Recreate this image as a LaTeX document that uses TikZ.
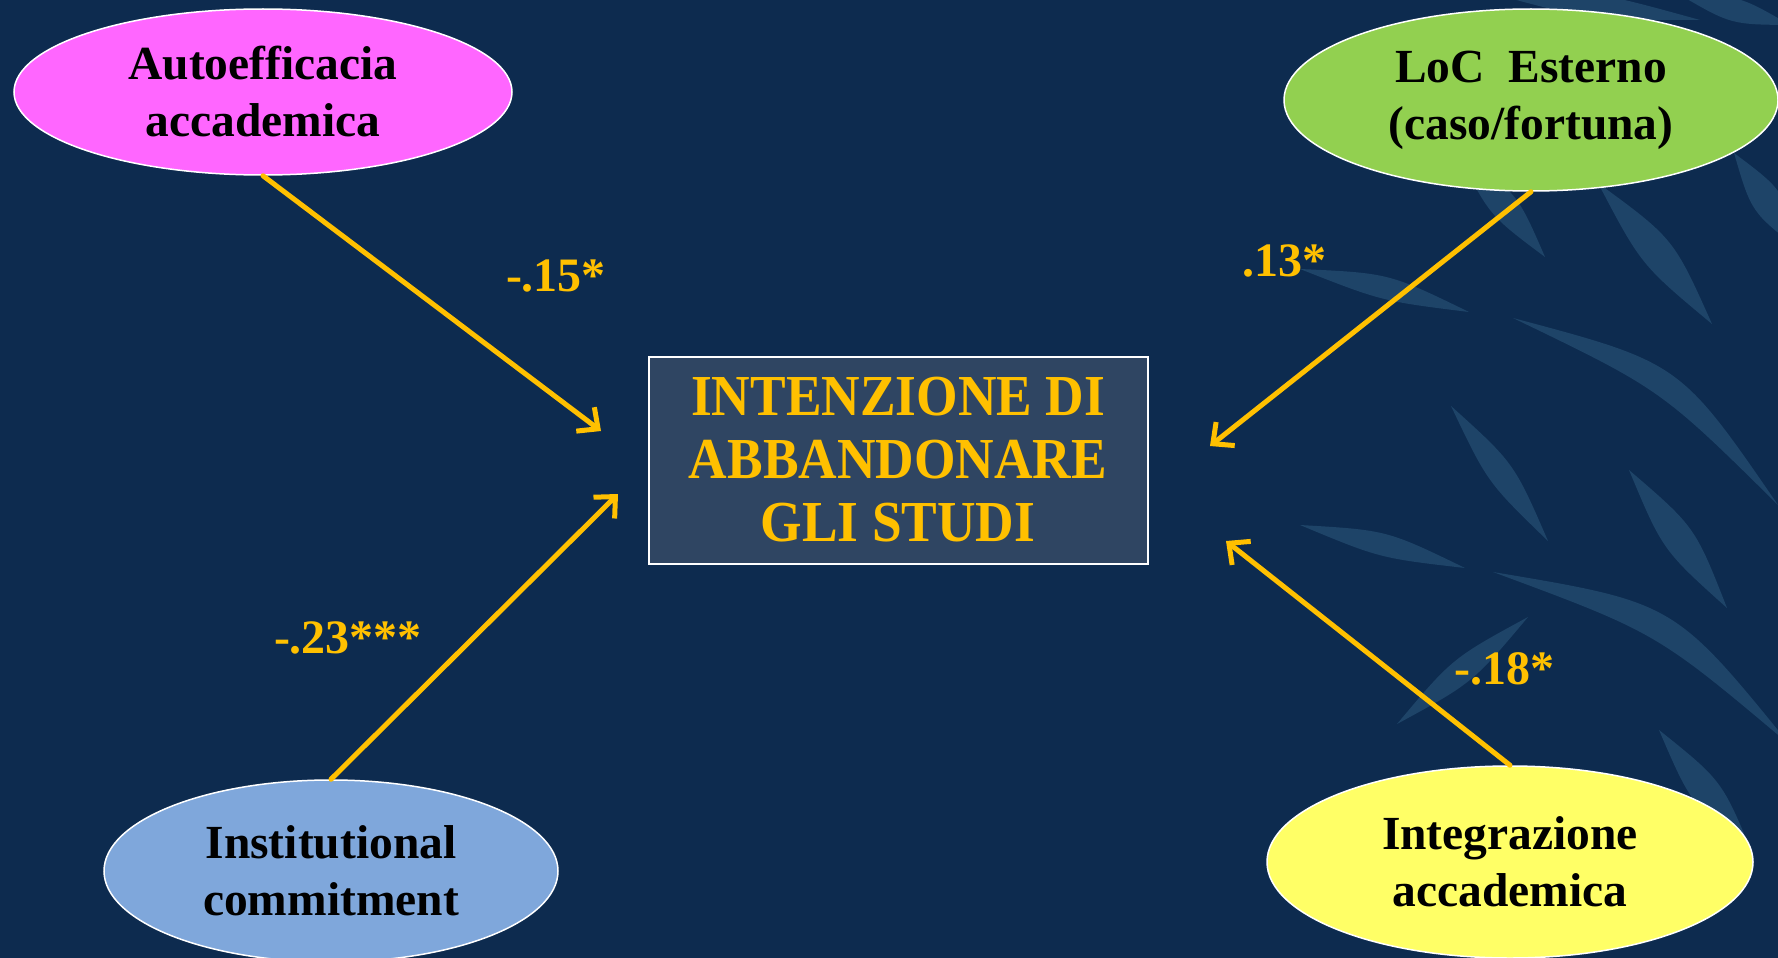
\documentclass[tikz,border=0pt]{standalone}
\usepackage{fontspec}
\setmainfont{Liberation Serif}
\newfontfamily\boxfont[FakeStretch=0.92]{Liberation Serif}
\usetikzlibrary{positioning,shapes.geometric,arrows.meta,calc}
\definecolor{navy}{HTML}{0D2B4F}
\definecolor{leafcol}{HTML}{1E4468}
\definecolor{boxcol}{HTML}{2F4562}
\definecolor{gold}{HTML}{FFC000}
\definecolor{pinkfill}{HTML}{FF66FF}
\definecolor{greenfill}{HTML}{92D050}
\definecolor{bluefill}{HTML}{7FA7DB}
\definecolor{yellowfill}{HTML}{FFFF66}
\tikzstyle{factor} = [
    draw=white,
    line width=1.5pt,
    ellipse,
    inner sep=0pt,
    align=center,
    text=black,
    font=\fontsize{47.5}{57}\selectfont\bfseries]
\tikzstyle{outcome} = [
    draw=white,
    line width=2pt,
    fill=boxcol,
    minimum width=499pt,
    minimum height=207pt,
    align=center,
    text=gold,
    font=\boxfont\fontsize{58}{63}\selectfont\bfseries]
\tikzstyle{coeff} = [
    text=gold,
    font=\fontsize{48}{50}\selectfont\bfseries]
\tikzstyle{link} = [
    draw=gold,
    line width=5pt,
    line cap=round,
    -{Straight Barb[length=16pt,width=30pt,line width=5pt]}]

\begin{document}
\begin{tikzpicture}[x=1pt,y=-1pt]
        \useasboundingbox (0,0) rectangle (1778,958);
        \clip (0,0) rectangle (1778,958);
        \fill[navy] (0,0) rectangle (1778,958);
        % leaves in the background
        \foreach \xa/\ya/\xb/\yb/\sa/\sb in {1300/269/1469/312/18/-11, 1598/183/1712/324/24/-18,
            1458/153/1545/257/20/-16, 1513/318/1778/505/60/27, 1451/406/1548/541/18/-15,
            1629/470/1727/608/21/-19, 1300/525/1465/568/17/-12, 1493/572/1790/745/65/30,
            1528/617/1397/724/16/-16, 1659/730/1753/855/20/-19, 1480/-10/1700/20/15/-15,
            1680/-5/1790/25/15/-15, 1734/153/1800/250/20/-19}
            \fill[leafcol] (\xa,\ya)
                .. controls ($(\xa,\ya)!.5!(\xb,\yb)!\sa pt!90:(\xb,\yb)$) .. (\xb,\yb)
                .. controls ($(\xa,\ya)!.5!(\xb,\yb)!\sb pt!90:(\xb,\yb)$) .. (\xa,\ya);

        \node[outcome] (I) at (898,460) {INTENZIONE DI\\ABBANDONARE\\GLI STUDI};

        \node[factor, fill=pinkfill, minimum width=498pt, minimum height=166pt]
            (A) at (263,92) {Autoefficacia\\accademica};
        \node[factor, fill=greenfill, minimum width=494pt, minimum height=182pt]
            (L) at (1531,100) {LoC\ \ Esterno\\(caso/fortuna)};
        \node[factor, fill=bluefill, minimum width=454pt, minimum height=182pt]
            (C) at (331,871) {Institutional\\commitment};
        \node[factor, fill=yellowfill, minimum width=486pt, minimum height=192pt]
            (G) at (1510,862) {Integrazione\\accademica};

        \coordinate (A-in) at (601,431);
        \coordinate (C-in) at (618,494);
        \coordinate (L-in) at (1210,446);
        \coordinate (G-in) at (1226,541);

        \path[link] (A.south) -- (A-in);
        \path[link] (C.north) -- (C-in);
        \path[link] (L.south) -- (L-in);
        \path[link] (G.north) -- (G-in);

        \node[coeff] (A-w) at (556,276) {-.15*};
        \node[coeff] (L-w) at (1284,261) {.13*};
        \node[coeff] (C-w) at (348,638) {-.23***};
        \node[coeff] (G-w) at (1504,669) {-.18*};
    \end{tikzpicture}
\end{document}
